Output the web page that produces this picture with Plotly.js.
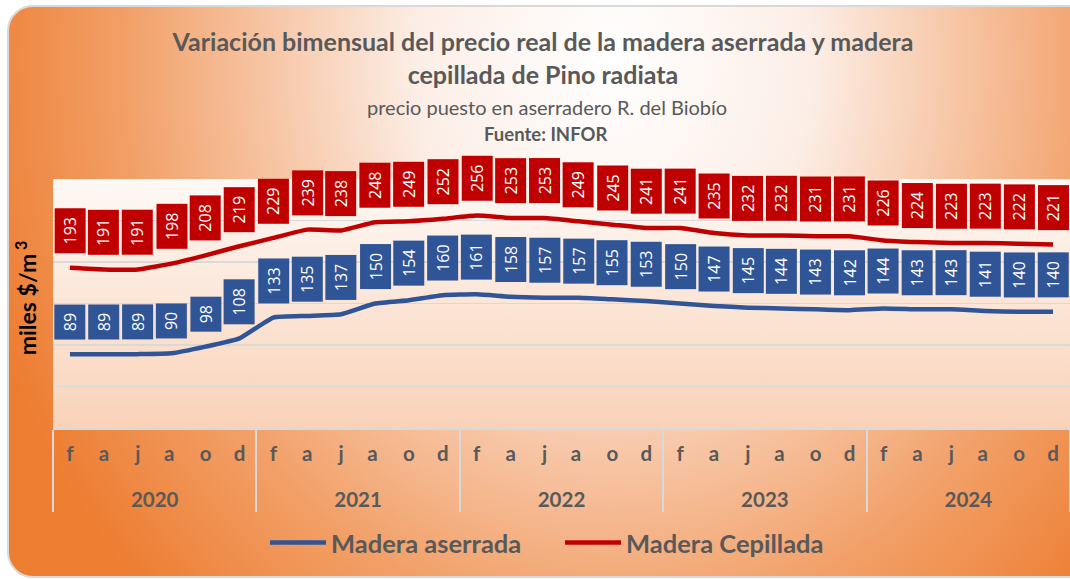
<!DOCTYPE html>
<html><head><meta charset="utf-8">
<script src="https://cdn.plot.ly/plotly-3.0.1.min.js"></script>
<style>
html,body{margin:0;padding:0;background:#fff;width:1070px;height:579px;overflow:hidden;}
#frame{position:absolute;left:7px;top:5px;width:1090px;height:569px;border:2px solid #D9D9D9;border-radius:26px;
background:radial-gradient(ellipse 660px 760px at 605px 55px,#FFFFFF 0%,#FCEEE6 30%,#F7C6A6 52%,#F2A068 74%,#ED7D31 100%);}
#plotbg{position:absolute;left:53px;top:179px;width:1017px;height:249px;background:linear-gradient(to bottom,#FEF9F6,#F9D2B8);}
#chart{position:absolute;left:0;top:0;width:1070px;height:579px;}
</style></head>
<body>
<div id="frame"></div>
<div id="plotbg"></div>
<div id="chart"></div>
<script>
const years = ['2020','2021','2022','2023','2024'];
const months = ['f','a','j','a','o','d'];
const aserrada = [89,89,89,90,98,108, 133,135,137,150,154,160, 161,158,157,157,155,153, 150,147,145,144,143,142, 144,143,143,141,140,140];
const cepillada = [193,191,191,198,208,219, 229,239,238,248,249,252, 256,253,253,249,245,241, 241,235,232,232,231,231, 226,224,223,223,222,221];

// build multicategory coordinates (duplicate month letters made unique with trailing spaces;
// year labels get a leading line break to sit lower, as in the reference)
const yearCat = [], monthCat = [];
years.forEach(y => {
  const seen = {};
  months.forEach(m => {
    seen[m] = (seen[m] || 0);
    yearCat.push('<br>' + y);
    monthCat.push(m + ' '.repeat(seen[m]));
    seen[m]++;
  });
});

const FONT = 'Lato, "Open Sans", sans-serif';
const BLUE = '#2F5597', RED = '#C00000';

const traces = [
  {x:[yearCat, monthCat], y:aserrada, name:'Madera aserrada', type:'scatter', mode:'lines',
   line:{color:BLUE, width:4.5, shape:'spline', smoothing:0.4}, hoverinfo:'y'},
  {x:[yearCat, monthCat], y:cepillada, name:'Madera Cepillada', type:'scatter', mode:'lines',
   line:{color:RED, width:4.5, shape:'spline', smoothing:0.4}, hoverinfo:'y'}
];

function labels(vals, color) {
  return vals.map((v, i) => {
    const t = String(v);
    return {x:i, y:v, xref:'x', yref:'y', text:t, textangle:-90, showarrow:false,
      xanchor:'center', yanchor:'bottom', yshift:14,
      bgcolor:color, borderpad:0, width: t.length < 3 ? 34 : 44, height:30,
      font:{family:'"Open Sans", sans-serif', size:16, color:'#FFFFFF'}};
  });
}

const annotations = [].concat(labels(aserrada, BLUE), labels(cepillada, RED), [
  {xref:'paper', yref:'paper', x:(547-53)/1017, y:(428-107)/249, text:'precio puesto en aserradero R. del Biobío',
   showarrow:false, xanchor:'center', yanchor:'middle', font:{family:FONT, size:20, color:'#595959'}},
  {xref:'paper', yref:'paper', x:(545-53)/1017, y:(428-134)/249, text:'Fuente: INFOR',
   showarrow:false, xanchor:'center', yanchor:'middle', font:{family:FONT, size:18.5, color:'#595959', weight:'bold'}}
]);

const layout = {
  width:1070, height:579,
  margin:{l:53, r:0, t:179, b:151, pad:0},
  paper_bgcolor:'rgba(0,0,0,0)', plot_bgcolor:'rgba(0,0,0,0)',
  title:{text:'Variación bimensual del precio real de la madera aserrada y madera<br>cepillada de Pino radiata',
    font:{family:FONT, size:25, color:'#595959', weight:'bold'},
    x:543/1070, xref:'container', xanchor:'center', y:1-51/579, yref:'container', yanchor:'top'},
  xaxis:{type:'multicategory', showline:true, linecolor:'#D9D9D9', linewidth:2,
    showgrid:false, ticks:'outside', ticklen:26, tickcolor:'rgba(0,0,0,0)', ticklabelstandoff:6,
    showdividers:true, dividercolor:'#D9D9D9', dividerwidth:2,
    tickfont:{family:FONT, size:20.5, color:'#595959', weight:'bold'},
    range:[-0.5, 29.5], fixedrange:true},
  yaxis:{range:[0,300], dtick:50, showticklabels:false, showgrid:true, gridcolor:'#D9D9D9', gridwidth:1.5,
    zeroline:false, showline:false, fixedrange:true,
    title:{text:'&nbsp;&nbsp;miles $/m<sup> 3</sup>', font:{family:FONT, size:23, color:'#000000', weight:'bold'}, standoff:8}},
  showlegend:true,
  legend:{orientation:'h', xref:'container', yref:'container', x:265/1070, y:1-543/579, xanchor:'left', yanchor:'middle',
    font:{family:FONT, size:25.5, color:'#595959', weight:'bold'}, bgcolor:'rgba(0,0,0,0)', itemwidth:56, entrywidth:224},
  annotations:annotations
};

Plotly.newPlot('chart', traces, layout, {displayModeBar:false, staticPlot:true});
</script>
</body></html>
